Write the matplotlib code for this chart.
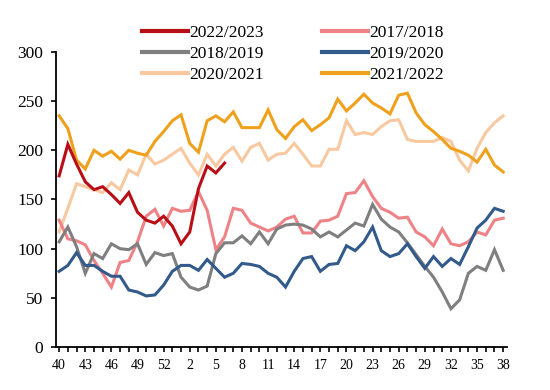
import matplotlib
matplotlib.use("Agg")
import matplotlib.pyplot as plt

weeks = list(range(40, 54)) + list(range(1, 39))

s2022_2023 = [174, 206, 186, 168, 160, 163, 155, 146, 157, 137, 129, 126, 133, 123,
              105, 117, 161, 184, 177, 187]
s2017_2018 = [129, 110, 108, 104, 88, 75, 61, 86, 88, 107, 133, 140, 123, 141,
              138, 139, 158, 139, 99, 112, 141, 139, 126, 122, 118, 122, 130,
              133, 116, 116, 128, 129, 133, 156, 157, 169, 153, 141, 137, 131,
              132, 117, 112, 103, 120, 105, 103, 107, 117, 114, 129, 131]
s2018_2019 = [107, 122, 102, 75, 95, 90, 105, 100, 99, 105, 84, 96, 93, 95,
              71, 61, 58, 62, 95, 106, 106, 113, 105, 117, 105, 120, 124,
              125, 124, 120, 112, 117, 112, 119, 126, 123, 145, 130, 122, 117,
              106, 94, 82, 71, 56, 39, 48, 75, 82, 78, 99, 78]
s2019_2020 = [77, 83, 96, 83, 83, 77, 72, 72, 58, 56, 52, 53, 63, 77,
              83, 83, 78, 89, 80, 71, 75, 85, 84, 82, 75, 71, 61,
              77, 90, 92, 77, 84, 85, 103, 98, 107, 122, 98, 92, 95,
              105, 92, 80, 92, 82, 90, 84, 102, 121, 129, 141, 138]
s2020_2021 = [117, 141, 166, 163, 160, 157, 167, 160, 180, 175, 196, 186, 190, 196,
              202, 187, 175, 196, 184, 196, 203, 189, 203, 207, 190, 196, 197,
              207, 196, 184, 184, 201, 201, 230, 216, 218, 216, 224, 230, 231,
              211, 209, 209, 209, 213, 209, 190, 179, 202, 218, 228, 235]
s2021_2022 = [235, 222, 190, 181, 200, 194, 199, 191, 200, 197, 195, 209, 219, 230,
              236, 207, 198, 230, 235, 229, 239, 223, 223, 223, 241, 221, 212,
              224, 231, 220, 226, 233, 252, 240, 248, 257, 248, 243, 237, 256,
              258, 238, 226, 219, 211, 202, 199, 195, 188, 201, 185, 178]

series = [
    ("2022/2023", s2022_2023, "#B80F17"),
    ("2018/2019", s2018_2019, "#7F7F7F"),
    ("2020/2021", s2020_2021, "#F8C9A0"),
    ("2017/2018", s2017_2018, "#EE8286"),
    ("2019/2020", s2019_2020, "#325A8A"),
    ("2021/2022", s2021_2022, "#EFA11E"),
]
draw_order = ["2020/2021", "2021/2022", "2017/2018", "2018/2019", "2019/2020", "2022/2023"]

plt.rcParams['font.family'] = ['Liberation Serif', 'DejaVu Serif']

fig = plt.figure(figsize=(5.5, 3.9), dpi=100)
ax = fig.add_axes([0.102, 0.110, 0.820, 0.757])

handles = {}
for name, vals, col in series:
    z = 3 + draw_order.index(name)
    ln, = ax.plot(range(len(vals)), vals, color=col, lw=2.2, zorder=z,
                  solid_joinstyle='miter')
    handles[name] = ln

ax.set_ylim(0, 300)
ax.set_xlim(-0.35, len(weeks) - 1 + 0.45)
ax.set_yticks([0, 50, 100, 150, 200, 250, 300])
ax.set_xticks(range(len(weeks)))
ax.set_xticklabels([str(w) if i % 3 == 0 else "" for i, w in enumerate(weeks)])
ax.tick_params(axis='both', direction='out', length=3.6, width=1.2,
               color='black')
ax.tick_params(axis='y', labelsize=12.5, pad=5.8)
ax.tick_params(axis='x', labelsize=10, pad=5)
for sp in ['top', 'right']:
    ax.spines[sp].set_visible(False)
for sp in ['left', 'bottom']:
    ax.spines[sp].set_linewidth(1.3)

order = ["2022/2023", "2018/2019", "2020/2021", "2017/2018", "2019/2020", "2021/2022"]
leg = fig.legend([handles[n] for n in order], order, ncol=2, loc='upper left',
                 bbox_to_anchor=(0.258, 0.936), frameon=False, fontsize=12.5,
                 handlelength=2.65, handletextpad=0.05, columnspacing=3.4,
                 labelspacing=0.27, borderaxespad=0, borderpad=0)
for l in leg.get_lines():
    l.set_linewidth(3)

fig.savefig("out.png", dpi=100)
